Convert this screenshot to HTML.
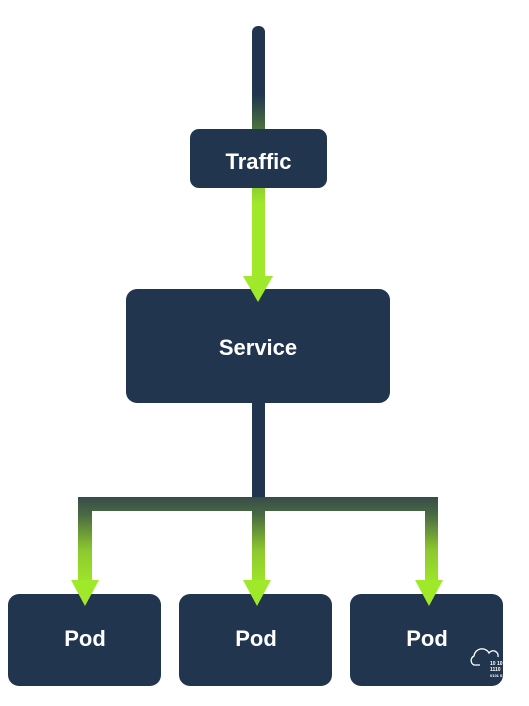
<!DOCTYPE html>
<html><head><style>
html,body{margin:0;padding:0;background:#fff;width:529px;height:706px;overflow:hidden}
text{font-family:"Liberation Sans",sans-serif;font-weight:bold;fill:#fff}
</style></head><body>
<svg width="529" height="706" viewBox="0 0 529 706" xmlns="http://www.w3.org/2000/svg">
<defs>
<linearGradient id="g1" x1="0" y1="26" x2="0" y2="280" gradientUnits="userSpaceOnUse">
<stop offset="0" stop-color="#22354f"/><stop offset="0.27" stop-color="#22354f"/><stop offset="0.42" stop-color="#4e7a3c"/><stop offset="0.7" stop-color="#a0e82a"/><stop offset="1" stop-color="#a0e82a"/>
</linearGradient>
<linearGradient id="g2" x1="0" y1="485" x2="0" y2="585" gradientUnits="userSpaceOnUse">
<stop offset="0" stop-color="#22354f"/><stop offset="0.15" stop-color="#3a5148"/><stop offset="0.3" stop-color="#4a6a42"/><stop offset="0.65" stop-color="#8cc82e"/><stop offset="1" stop-color="#a0e82a"/>
</linearGradient>
</defs>
<rect x="252" y="26" width="13" height="256" rx="6" fill="url(#g1)"/>
<rect x="190" y="129" width="137" height="59" rx="9" fill="#22354f"/>
<text x="258.5" y="169" font-size="22" text-anchor="middle">Traffic</text>
<rect x="252" y="395" width="13" height="110" fill="#22354f"/>
<path d="M78,584 V497 H438 V584 H425 V511 H265 V584 H252 V511 H92 V584 Z" fill="url(#g2)"/>
<rect x="126" y="289" width="264" height="114" rx="11" fill="#22354f"/>
<polygon points="243,276 273,276 258,302" fill="#a0e82a"/>
<text x="258" y="355" font-size="22" text-anchor="middle">Service</text>
<rect x="8" y="594" width="153" height="92" rx="11" fill="#22354f"/>
<rect x="179" y="594" width="153" height="92" rx="11" fill="#22354f"/>
<rect x="350" y="594" width="153" height="92" rx="11" fill="#22354f"/>
<polygon points="71,580 99,580 85,606" fill="#a0e82a"/>
<polygon points="243,580 271,580 257,606" fill="#a0e82a"/>
<polygon points="415,580 443,580 429,606" fill="#a0e82a"/>
<text x="85" y="646" font-size="22" text-anchor="middle">Pod</text>
<text x="256" y="646" font-size="22" text-anchor="middle">Pod</text>
<text x="427" y="646" font-size="22" text-anchor="middle">Pod</text>
<path d="M480,665 H474 a5,5 0 0 1 0,-9 a8,8 0 0 1 15,-3 a5,5 0 0 1 9,4" fill="none" stroke="#fff" stroke-width="1.3"/>
<text x="490" y="665" font-size="5" fill="#fff">10 10</text>
<text x="490" y="671" font-size="5" fill="#fff">1110</text>
<text x="490" y="677" font-size="4" fill="#fff">0101 01</text>
</svg>
</body></html>
